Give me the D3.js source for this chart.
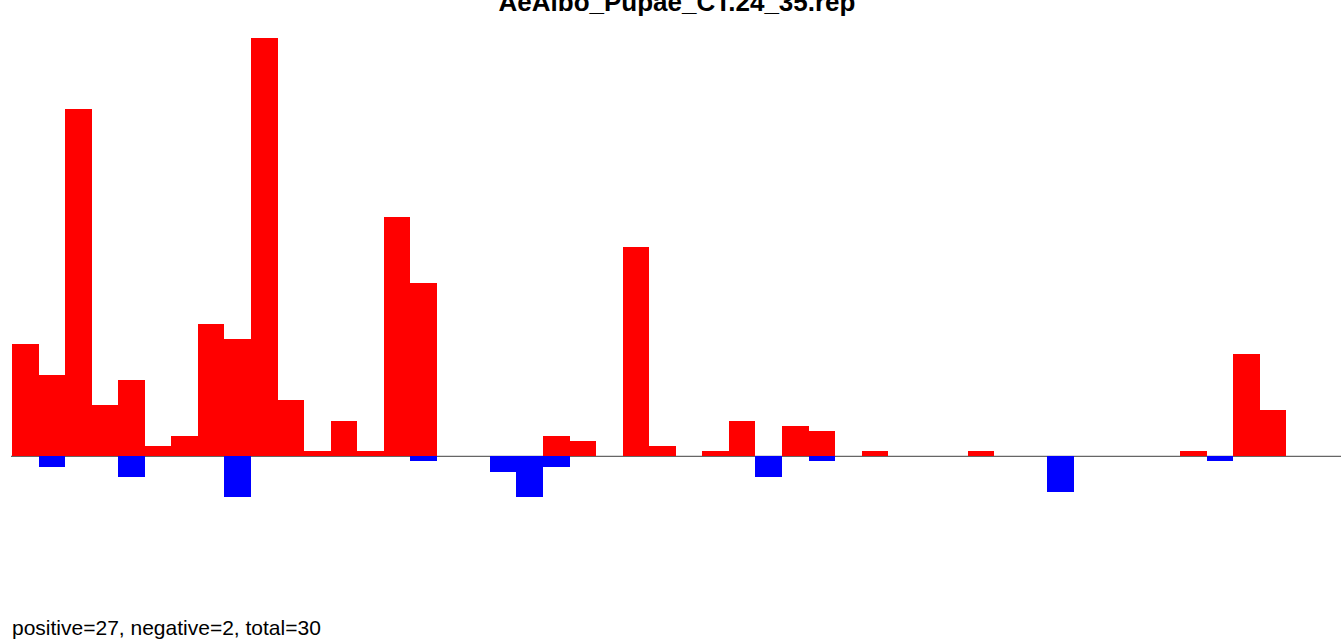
<!DOCTYPE html>
<html>
<head>
<meta charset="utf-8">
<script src="https://cdn.jsdelivr.net/npm/d3@7"></script>
<style>
  html, body { margin: 0; padding: 0; background: #fff; }
  svg { display: block; }
</style>
</head>
<body>
<svg id="chart" width="1341" height="641"></svg>
<script>
const title = "AeAlbo_Pupae_CT.24_35.rep";
const footer = "positive=27, negative=2, total=30";
const bins = d3.range(50);
const positive = [22,16,68,10,15,2,4,26,23,82,11,1,7,1,47,34,0,0,0,0,4,3,0,41,2,0,1,7,0,6,5,0,1,0,0,0,1,0,0,0,0,0,0,0,1,0,20,9,0,0];
const negative = [0,-2,0,0,-4,0,0,0,-8,0,0,0,0,0,0,-1,0,0,-3,-8,-2,0,0,0,0,0,0,0,-4,0,-1,0,0,0,0,0,0,0,0,-7,0,0,0,0,0,-1,0,0,0,0];

const svg = d3.select("#chart");

const x = d3.scaleBand().domain(bins).range([12, 1339.5]).padding(0);
const y = d3.scaleLinear().domain([0, 82]).range([456.3, 38]);

// zero line
svg.append("line")
  .attr("x1", 11).attr("x2", 1341)
  .attr("y1", y(0)).attr("y2", y(0))
  .attr("stroke", "#666").attr("stroke-width", 1.2);

svg.append("g").selectAll("rect")
  .data(bins.filter(i => positive[i] > 0))
  .join("rect")
  .attr("x", i => x(i))
  .attr("width", x.bandwidth())
  .attr("y", i => y(positive[i]))
  .attr("height", i => y(0) - y(positive[i]))
  .attr("fill", "#ff0000")
  .attr("shape-rendering", "crispEdges");

svg.append("g").selectAll("rect")
  .data(bins.filter(i => negative[i] < 0))
  .join("rect")
  .attr("x", i => x(i))
  .attr("width", x.bandwidth())
  .attr("y", y(0))
  .attr("height", i => y(negative[i]) - y(0))
  .attr("fill", "#0000ff")
  .attr("shape-rendering", "crispEdges");

svg.append("text")
  .attr("x", 677).attr("y", 11)
  .attr("text-anchor", "middle")
  .attr("font-family", "Liberation Sans, Arial, sans-serif")
  .attr("font-weight", "bold")
  .attr("font-size", 26)
  .attr("fill", "#000")
  .text(title);

svg.append("text")
  .attr("x", 12).attr("y", 635)
  .attr("font-family", "Liberation Sans, Arial, sans-serif")
  .attr("font-size", 21)
  .attr("fill", "#000")
  .text(footer);
</script>
</body>
</html>
